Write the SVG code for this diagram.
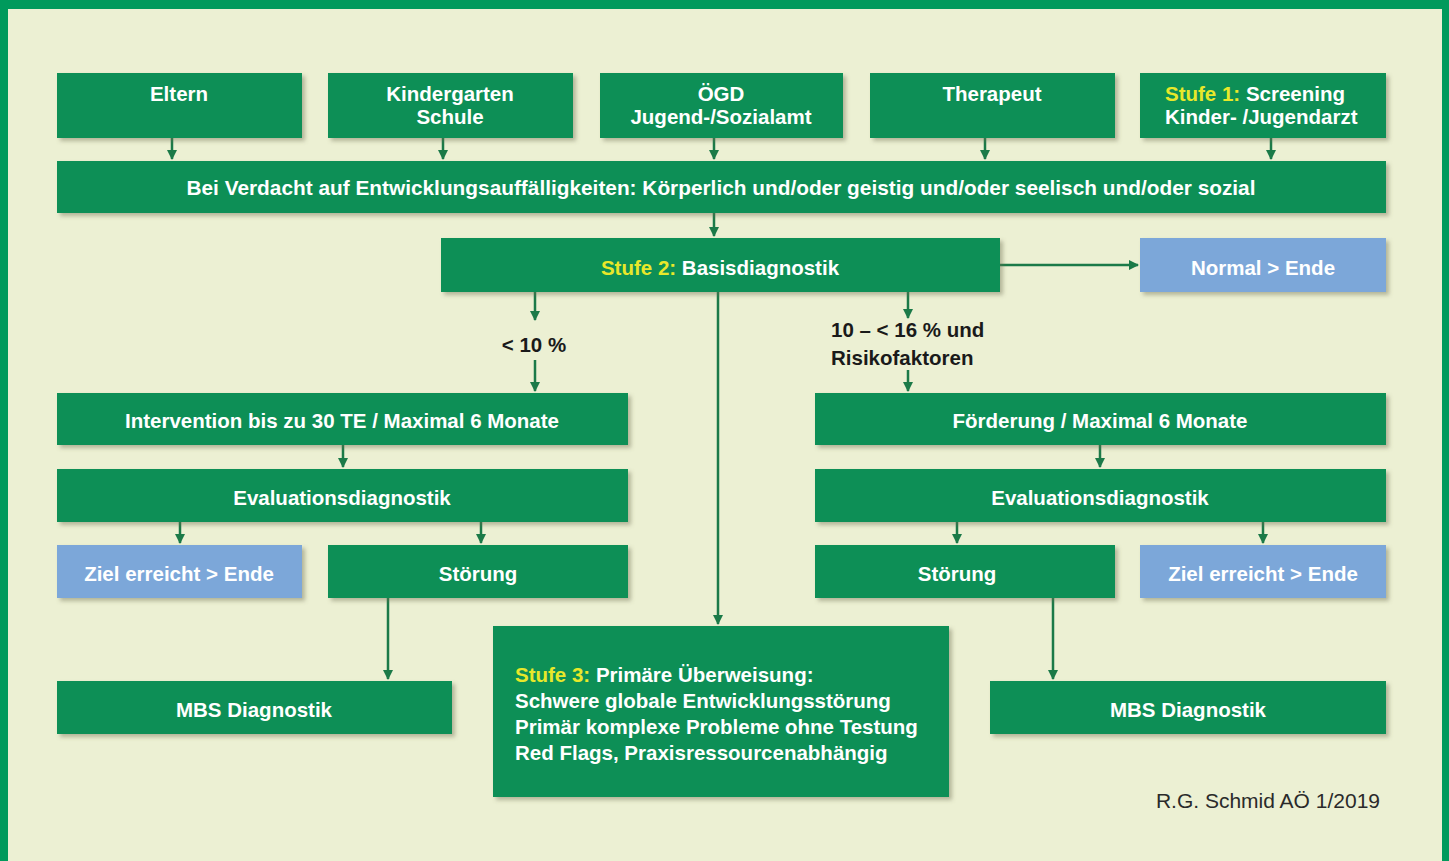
<svg xmlns="http://www.w3.org/2000/svg" width="1449" height="861" viewBox="0 0 1449 861">
<style>
.g{fill:#0A8F57}
.b{fill:#7BA7D9}
.t{font-family:"Liberation Sans",Arial,sans-serif;font-weight:bold;font-size:20.5px;fill:#FFFFFF;text-anchor:middle}
.s{text-anchor:start}
.y{fill:#E8E82A}
.c{stroke:#1B7A48;stroke-width:2.5;fill:none}
.lbl{font-family:"Liberation Sans",Arial,sans-serif;font-weight:bold;font-size:20.5px;fill:#1A1A1A}
</style>
<defs>
<filter id="sh" x="-5%" y="-10%" width="115%" height="130%">
<feDropShadow dx="3" dy="3" stdDeviation="2" flood-color="#6B6B50" flood-opacity="0.45"/>
</filter>
<marker id="ah" viewBox="0 0 10 10" refX="9" refY="5" markerWidth="4" markerHeight="4" orient="auto" markerUnits="strokeWidth">
<path d="M0,0 L10,5 L0,10 z" fill="#1B7A48"/>
</marker>
</defs>
<rect x="0" y="0" width="1449" height="861" fill="#009A5C"/>
<rect x="8" y="9" width="1434" height="852" fill="#ECF0D3"/>

<g id="connectors">
<path class="c" d="M172,138 V159" marker-end="url(#ah)"/>
<path class="c" d="M443,138 V159" marker-end="url(#ah)"/>
<path class="c" d="M714,138 V159" marker-end="url(#ah)"/>
<path class="c" d="M985,138 V159" marker-end="url(#ah)"/>
<path class="c" d="M1271,138 V159" marker-end="url(#ah)"/>
<path class="c" d="M714,213 V236" marker-end="url(#ah)"/>
<path class="c" d="M1000,265 H1138" marker-end="url(#ah)"/>
<path class="c" d="M535,292 V320" marker-end="url(#ah)"/>
<path class="c" d="M535,360 V391" marker-end="url(#ah)"/>
<path class="c" d="M908,292 V318" marker-end="url(#ah)"/>
<path class="c" d="M908,370 V391" marker-end="url(#ah)"/>
<path class="c" d="M718,292 V624" marker-end="url(#ah)"/>
<path class="c" d="M343,445 V467" marker-end="url(#ah)"/>
<path class="c" d="M1100,445 V467" marker-end="url(#ah)"/>
<path class="c" d="M180,522 V543" marker-end="url(#ah)"/>
<path class="c" d="M481,522 V543" marker-end="url(#ah)"/>
<path class="c" d="M957,522 V543" marker-end="url(#ah)"/>
<path class="c" d="M1263,522 V543" marker-end="url(#ah)"/>
<path class="c" d="M388,598 V679" marker-end="url(#ah)"/>
<path class="c" d="M1053,598 V679" marker-end="url(#ah)"/>
</g>

<g id="eltern"><rect class="g" filter="url(#sh)" x="57" y="73" width="245" height="65"/><text class="t" x="179" y="101">Eltern</text></g>
<g id="kindergarten"><rect class="g" filter="url(#sh)" x="328" y="73" width="245" height="65"/><text class="t" x="450" y="101">Kindergarten</text><text class="t" x="450" y="124">Schule</text></g>
<g id="oegd"><rect class="g" filter="url(#sh)" x="600" y="73" width="243" height="65"/><text class="t" x="721" y="101">ÖGD</text><text class="t" x="721" y="124">Jugend-/Sozialamt</text></g>
<g id="therapeut"><rect class="g" filter="url(#sh)" x="870" y="73" width="245" height="65"/><text class="t" x="992" y="101">Therapeut</text></g>
<g id="stufe1"><rect class="g" filter="url(#sh)" x="1140" y="73" width="246" height="65"/><text class="t s" x="1165" y="101"><tspan class="y">Stufe 1:</tspan> Screening</text><text class="t s" x="1165" y="124">Kinder- /Jugendarzt</text></g>
<g id="verdacht"><rect class="g" filter="url(#sh)" x="57" y="161" width="1329" height="52"/><text class="t" x="721" y="195" textLength="1069" lengthAdjust="spacingAndGlyphs">Bei Verdacht auf Entwicklungsauffälligkeiten: Körperlich und/oder geistig und/oder seelisch und/oder sozial</text></g>
<g id="stufe2"><rect class="g" filter="url(#sh)" x="441" y="238" width="559" height="54"/><text class="t" x="720" y="275"><tspan class="y">Stufe 2:</tspan> Basisdiagnostik</text></g>
<g id="normal"><rect class="b" filter="url(#sh)" x="1140" y="238" width="246" height="54"/><text class="t" x="1263" y="275">Normal &gt; Ende</text></g>
<g id="label-lt10"><text class="lbl" x="534" y="352" text-anchor="middle">&lt; 10 %</text></g>
<g id="label-10-16"><text class="lbl" x="831" y="337">10 – &lt; 16 % und</text><text class="lbl" x="831" y="365">Risikofaktoren</text></g>
<g id="intervention"><rect class="g" filter="url(#sh)" x="57" y="393" width="571" height="52"/><text class="t" x="342" y="428">Intervention bis zu 30 TE / Maximal 6 Monate</text></g>
<g id="foerderung"><rect class="g" filter="url(#sh)" x="815" y="393" width="571" height="52"/><text class="t" x="1100" y="428">Förderung / Maximal 6 Monate</text></g>
<g id="eval-left"><rect class="g" filter="url(#sh)" x="57" y="469" width="571" height="53"/><text class="t" x="342" y="505">Evaluationsdiagnostik</text></g>
<g id="eval-right"><rect class="g" filter="url(#sh)" x="815" y="469" width="571" height="53"/><text class="t" x="1100" y="505">Evaluationsdiagnostik</text></g>
<g id="ziel-left"><rect class="b" filter="url(#sh)" x="57" y="545" width="245" height="53"/><text class="t" x="179" y="581">Ziel erreicht &gt; Ende</text></g>
<g id="stoerung-left"><rect class="g" filter="url(#sh)" x="328" y="545" width="300" height="53"/><text class="t" x="478" y="581">Störung</text></g>
<g id="stoerung-right"><rect class="g" filter="url(#sh)" x="815" y="545" width="300" height="53"/><text class="t" x="957" y="581">Störung</text></g>
<g id="ziel-right"><rect class="b" filter="url(#sh)" x="1140" y="545" width="246" height="53"/><text class="t" x="1263" y="581">Ziel erreicht  &gt; Ende</text></g>
<g id="mbs-left"><rect class="g" filter="url(#sh)" x="57" y="681" width="395" height="53"/><text class="t" x="254" y="717">MBS Diagnostik</text></g>
<g id="stufe3"><rect class="g" filter="url(#sh)" x="493" y="626" width="456" height="171"/>
<text class="t s" x="515" y="682"><tspan class="y">Stufe 3:</tspan> Primäre Überweisung:</text>
<text class="t s" x="515" y="708">Schwere globale Entwicklungsstörung</text>
<text class="t s" x="515" y="734">Primär komplexe Probleme ohne Testung</text>
<text class="t s" x="515" y="760">Red Flags, Praxisressourcenabhängig</text>
</g>
<g id="mbs-right"><rect class="g" filter="url(#sh)" x="990" y="681" width="396" height="53"/><text class="t" x="1188" y="717">MBS Diagnostik</text></g>
<g id="credit"><text x="1380" y="808" text-anchor="end" font-family="Liberation Sans, Arial, sans-serif" font-size="21" fill="#2A2A2A">R.G. Schmid AÖ 1/2019</text></g>
</svg>
